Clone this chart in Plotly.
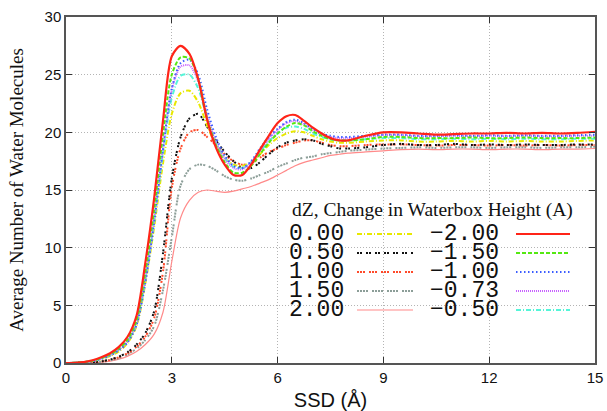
import plotly.graph_objects as go

# ---------------- data ----------------
ssd = [0, 0.25, 0.5, 0.75, 1.0, 1.25, 1.5, 1.75, 2.0, 2.25, 2.5, 2.75, 3.0, 3.25, 3.5, 3.75,
       4.0, 4.25, 4.5, 4.75, 5.0, 5.25, 5.5, 5.75, 6.0, 6.25, 6.5, 6.75, 7.0, 7.25, 7.5, 7.75,
       8.0, 8.5, 9.0, 9.5, 10.0, 10.5, 11.0, 11.5, 12.0, 12.5, 13.0, 13.5, 14.0, 14.5, 15.0]

dz_0_00 = [0, .02, .06, .16, .33, .6, 1.0, 1.75, 3.2, 6.9, 11.8, 17.3, 21.6, 23.4, 23.6, 22.6,
           20.6, 18.9, 17.8, 17.2, 17.1, 17.4, 18.1, 18.9, 19.5, 19.9, 20.1, 20.0, 19.7, 19.4, 19.2, 19.1,
           19.1, 19.2, 19.3, 19.3, 19.2, 19.2, 19.25, 19.2, 19.25, 19.2, 19.25, 19.2, 19.2, 19.25, 19.3]
dz_0_50 = [0, .01, .03, .07, .15, .3, .55, .95, 1.6, 2.6, 4.5, 9.5, 16.0, 19.6, 21.2, 21.6,
           20.5, 19.3, 18.3, 17.5, 16.9, 16.9, 17.4, 18.1, 18.7, 19.1, 19.3, 19.4, 19.3, 19.0, 18.8, 18.6,
           18.6, 18.7, 18.9, 19.0, 18.9, 18.9, 19.0, 18.9, 18.95, 18.9, 18.95, 18.9, 18.9, 18.95, 18.95]
dz_1_00 = [0, .01, .03, .06, .13, .27, .5, .85, 1.4, 2.3, 3.9, 7.9, 15.2, 18.6, 20.0, 20.2,
           19.6, 18.9, 18.1, 17.5, 17.2, 17.3, 17.8, 18.3, 18.6, 18.9, 19.1, 19.3, 19.3, 19.1, 18.9, 18.8,
           18.8, 18.9, 18.95, 18.95, 18.9, 18.85, 18.9, 18.9, 18.85, 18.9, 18.85, 18.9, 18.85, 18.9, 18.9]
dz_1_50 = [0, .01, .02, .05, .11, .22, .42, .75, 1.25, 2.0, 3.2, 6.3, 10.9, 15.4, 16.8, 17.2,
           17.1, 16.7, 16.2, 15.9, 15.8, 16.0, 16.3, 16.6, 17.0, 17.3, 17.6, 17.8, 17.9, 18.1, 18.2, 18.3,
           18.4, 18.5, 18.6, 18.65, 18.7, 18.65, 18.7, 18.7, 18.65, 18.7, 18.7, 18.65, 18.7, 18.7, 18.75]
dz_2_00 = [0, .005, .015, .035, .08, .17, .33, .6, 1.0, 1.6, 2.5, 4.4, 8.8, 12.6, 14.1, 14.8,
           15.0, 14.9, 14.8, 14.9, 15.1, 15.3, 15.6, 15.9, 16.3, 16.7, 17.1, 17.4, 17.6, 17.8, 18.0, 18.1,
           18.2, 18.3, 18.4, 18.5, 18.55, 18.5, 18.55, 18.55, 18.5, 18.55, 18.55, 18.5, 18.55, 18.55, 18.6]
dz_m2_00 = [0, .02, .08, .24, .5, .85, 1.4, 2.3, 4.1, 8.7, 14.3, 21.0, 26.6, 27.5, 26.8, 24.6,
            21.1, 18.7, 17.2, 16.3, 16.3, 17.2, 18.5, 19.7, 20.8, 21.4, 21.5, 21.0, 20.4, 19.9, 19.5, 19.3,
            19.3, 19.7, 20.0, 20.0, 19.9, 19.8, 19.85, 19.9, 19.9, 19.95, 19.9, 19.95, 19.9, 19.95, 20.05]
dz_m1_50 = [0, .02, .07, .2, .42, .75, 1.25, 2.05, 3.7, 7.9, 13.3, 19.8, 25.0, 26.5, 26.4, 24.6,
            21.2, 18.9, 17.4, 16.5, 16.5, 17.1, 18.1, 19.1, 19.9, 20.5, 20.8, 20.6, 20.1, 19.7, 19.4, 19.3,
            19.3, 19.4, 19.6, 19.6, 19.5, 19.5, 19.5, 19.55, 19.5, 19.5, 19.55, 19.5, 19.5, 19.5, 19.55]
dz_m1_00 = [0, .02, .06, .17, .36, .65, 1.1, 1.8, 3.3, 7.0, 12.2, 18.5, 23.8, 26.0, 26.3, 25.0,
            22.0, 19.6, 18.0, 17.1, 16.9, 17.5, 18.6, 19.6, 20.3, 20.9, 21.1, 20.8, 20.3, 19.9, 19.7, 19.6,
            19.6, 19.7, 19.8, 19.8, 19.7, 19.7, 19.75, 19.7, 19.75, 19.7, 19.75, 19.7, 19.7, 19.75, 19.8]
dz_m0_73 = [0, .02, .06, .18, .38, .68, 1.15, 1.9, 3.4, 7.3, 12.5, 18.6, 23.7, 25.7, 25.8, 24.4,
            21.5, 19.2, 17.7, 16.9, 16.8, 17.4, 18.4, 19.4, 20.2, 20.8, 21.0, 20.7, 20.2, 19.8, 19.6, 19.5,
            19.5, 19.6, 19.75, 19.75, 19.65, 19.65, 19.7, 19.65, 19.7, 19.65, 19.7, 19.65, 19.65, 19.7, 19.7]
dz_m0_50 = [0, .02, .06, .18, .38, .68, 1.15, 1.9, 3.4, 7.2, 12.3, 18.2, 23.0, 24.9, 25.0, 23.8,
            21.2, 19.1, 17.8, 17.0, 16.9, 17.4, 18.3, 19.2, 19.9, 20.4, 20.5, 20.3, 19.9, 19.6, 19.4, 19.3,
            19.3, 19.4, 19.5, 19.5, 19.4, 19.4, 19.45, 19.4, 19.45, 19.4, 19.45, 19.4, 19.4, 19.45, 19.45]

labels_col1 = ["0.00", "0.50", "1.00", "1.50", "2.00"]
labels_col2 = ["\u22122.00", "\u22121.50", "\u22121.00", "\u22120.73", "\u22120.50"]
series_col1 = [dz_0_00, dz_0_50, dz_1_00, dz_1_50, dz_2_00]
series_col2 = [dz_m2_00, dz_m1_50, dz_m1_00, dz_m0_73, dz_m0_50]

x_ticks = [0, 3, 6, 9, 12, 15]
y_ticks = [0, 5, 10, 15, 20, 25, 30]

# ---------------- styles ----------------
styles_col1 = [
    dict(color="#e8e800", width=2, dash="5px,2px,1px,2px"),
    dict(color="#111111", width=2, dash="2px,1px,2px,4px"),
    dict(color="#ff4a2a", width=2, dash="2px,1px,2px,1px,2px,4px"),
    dict(color="#8c9e98", width=2, dash="2px,1px,2px,1px,2px,1px,2px,4px"),
    dict(color="#ff8a8a", width=1.2, dash="solid"),
]
styles_col2 = [
    dict(color="#ff2418", width=2.2, dash="solid"),
    dict(color="#55e812", width=2, dash="4px,2px"),
    dict(color="#3a5cff", width=2, dash="1.5px,2.5px"),
    dict(color="#c862ff", width=2, dash="1px,1px"),
    dict(color="#55f5d8", width=2, dash="5px,2px,1px,2px"),
]

W, H = 607, 411
L, R, T, B = 66, 595, 17, 363


def px(xp):
    return (xp - L) / (R - L)


def py(yp):
    return (B - yp) / (B - T)


fig = go.Figure()
order = [(series_col1[4], styles_col1[4]), (series_col1[3], styles_col1[3]),
         (series_col1[2], styles_col1[2]), (series_col1[1], styles_col1[1]),
         (series_col1[0], styles_col1[0]), (series_col2[4], styles_col2[4]),
         (series_col2[3], styles_col2[3]), (series_col2[2], styles_col2[2]),
         (series_col2[1], styles_col2[1]), (series_col2[0], styles_col2[0])]
for ys, st in order:
    fig.add_trace(go.Scatter(x=ssd, y=ys, mode="lines",
                             line=dict(color=st["color"], width=st["width"], dash=st["dash"],
                                       shape="spline", smoothing=0.8),
                             showlegend=False, hoverinfo="skip"))

shapes = []
shapes.append(dict(type="rect", xref="paper", yref="paper", x0=px(372), x1=1, y0=0, y1=py(188),
                   fillcolor="white", line=dict(width=0), layer="between"))

annotations = []
annotations.append(dict(text="dZ, Change in Waterbox Height (A)", xref="paper", yref="paper",
                        x=px(290), y=py(210), xanchor="left", yanchor="middle", showarrow=False,
                        font=dict(family="Liberation Serif", size=19.5, color="#111")))
row_y = [234, 253, 272, 291, 310]
for i in range(5):
    annotations.append(dict(text=labels_col1[i], xref="paper", yref="paper", x=px(346), y=py(row_y[i]),
                            xanchor="right", yanchor="middle", showarrow=False,
                            font=dict(family="Liberation Mono", size=23, color="#111")))
    annotations.append(dict(text=labels_col2[i], xref="paper", yref="paper", x=px(501), y=py(row_y[i]),
                            xanchor="right", yanchor="middle", showarrow=False,
                            font=dict(family="Liberation Mono", size=23, color="#111")))
    s1 = styles_col1[i]
    s2 = styles_col2[i]
    shapes.append(dict(type="line", xref="paper", yref="paper", x0=px(357), x1=px(413),
                       y0=py(row_y[i]), y1=py(row_y[i]),
                       line=dict(color=s1["color"], width=s1["width"], dash=s1["dash"])))
    shapes.append(dict(type="line", xref="paper", yref="paper", x0=px(516), x1=px(570),
                       y0=py(row_y[i]), y1=py(row_y[i]),
                       line=dict(color=s2["color"], width=s2["width"], dash=s2["dash"])))

fig.update_layout(
    width=W, height=H,
    margin=dict(l=L, r=W - R, t=T, b=H - B, autoexpand=False),
    paper_bgcolor="white", plot_bgcolor="white",
    shapes=shapes, annotations=annotations,
    xaxis=dict(range=[0, 15], tickvals=x_ticks, ticks="inside", ticklen=6, tickcolor="#333",
               automargin=False,
               showline=True, linecolor="#555", linewidth=1.5, mirror="ticks",
               showgrid=True, gridcolor="#b4b4b4", griddash="1px,2px", gridwidth=1, zeroline=False,
               tickfont=dict(family="Liberation Sans", size=15, color="#111"),
               title=dict(text="SSD (\u00c5)", font=dict(family="Liberation Sans", size=20, color="#111"),
                          standoff=12)),
    yaxis=dict(range=[0, 30], tickvals=y_ticks, ticks="inside", ticklen=6, tickcolor="#333",
               automargin=False,
               showline=True, linecolor="#555", linewidth=1.5, mirror="ticks",
               showgrid=True, gridcolor="#b4b4b4", griddash="1px,2px", gridwidth=1, zeroline=False,
               tickfont=dict(family="Liberation Sans", size=15, color="#111"),
               title=dict(text="Average Number of Water Molecules",
                          font=dict(family="Liberation Serif", size=19, color="#111"), standoff=16)),
)

fig.write_html("out.html", config={"displayModeBar": False},
               post_script="document.body.style.margin='0';document.body.style.overflow='hidden';")
